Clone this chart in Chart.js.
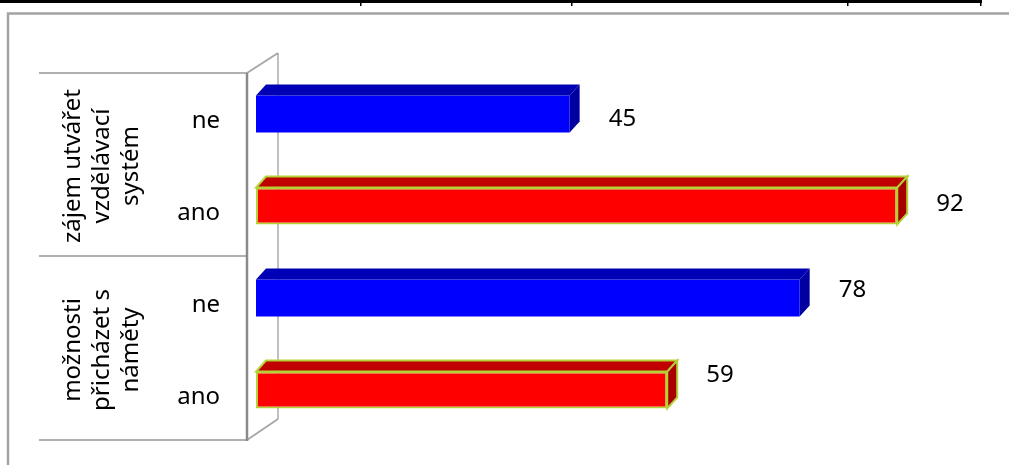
<!DOCTYPE html>
<html>
<head>
<meta charset="utf-8">
<script src="https://cdn.jsdelivr.net/npm/chart.js@4.4.1/dist/chart.umd.min.js"></script>
<style>
  html, body { margin: 0; padding: 0; background: #fff; overflow: hidden; }
  canvas { display: block; }
</style>
</head>
<body>
<canvas id="survey" width="1009" height="465"></canvas>
<script>
// odpovědi po skupinách (shora dolů)
const groupLabels = [
    ['zájem utvářet', 'vzdělávací', 'systém'],
    ['možnosti', 'přicházet s', 'náměty']
];
const answerLabels = ['ne', 'ano', 'ne', 'ano'];
const answerValues = [45, 92, 78, 59];

const FONT = '24px "Noto Sans", sans-serif';
const DX = 10, DY = -11;   // hloubka 3D kvádru

function faceColors(label) {
    return label === 'ano'
        ? { front: '#ff0000', top: '#c00000', side: '#a80000', edge: '#b4d236' }
        : { front: '#0000ff', top: '#0000b4', side: '#0000a0', edge: null };
}

// stěny, osa a dělicí čáry kategorií
const framePlugin = {
    id: 'frame',
    beforeDatasetsDraw(chart) {
        const ctx = chart.ctx;
        const a = chart.chartArea;
        const fx = a.left - 9;          // přední osa
        const bx = a.left + 22;         // zadní stěna
        const yTop = a.top + 5, yBot = a.bottom + 4, yMid = (a.top + a.bottom) / 2 + 4;
        ctx.save();

        // čára tabulky nad grafem
        ctx.fillStyle = '#000';
        ctx.fillRect(0, 0, 982, 3);
        [360, 571, 847, 980].forEach(x => ctx.fillRect(x, 0, 1.5, 6));

        // rámeček grafu
        ctx.strokeStyle = '#a4a4a4';
        ctx.lineWidth = 2.5;
        ctx.beginPath();
        ctx.moveTo(8, 470);
        ctx.lineTo(8, 13.5);
        ctx.lineTo(1015, 13.5);
        ctx.stroke();

        // zadní stěna
        ctx.strokeStyle = '#c0c0c0';
        ctx.lineWidth = 2;
        ctx.beginPath();
        ctx.moveTo(bx, yTop - 20);
        ctx.lineTo(bx, yBot - 21);
        ctx.stroke();
        ctx.strokeStyle = '#a8a8a8';
        ctx.beginPath();
        ctx.moveTo(fx, yTop);
        ctx.lineTo(bx, yTop - 20);
        ctx.moveTo(fx, yBot);
        ctx.lineTo(bx, yBot - 21);
        ctx.stroke();

        // dělicí čáry kategorií
        ctx.strokeStyle = '#969696';
        ctx.lineWidth = 1.5;
        ctx.beginPath();
        [yTop, yMid, yBot].forEach(y => {
            ctx.moveTo(39, y);
            ctx.lineTo(fx, y);
        });
        ctx.stroke();

        // přední osa
        ctx.strokeStyle = '#8a8a8a';
        ctx.lineWidth = 2.5;
        ctx.beginPath();
        ctx.moveTo(fx, yTop);
        ctx.lineTo(fx, yBot + 1);
        ctx.stroke();
        ctx.restore();
    }
};

// horní a boční stěna sloupců, popisky
const boxPlugin = {
    id: 'box3d',
    afterDatasetsDraw(chart) {
        const ctx = chart.ctx;
        const a = chart.chartArea;
        const meta = chart.getDatasetMeta(0);
        ctx.save();
        meta.data.forEach((bar, i) => {
            const c = faceColors(answerLabels[i]);
            const top = bar.y - bar.height / 2, bottom = bar.y + bar.height / 2;
            const x0 = bar.base, x1 = bar.x;

            ctx.lineJoin = 'miter';
            ctx.fillStyle = c.top;
            ctx.beginPath();
            ctx.moveTo(x0, top);
            ctx.lineTo(x0 + DX, top + DY);
            ctx.lineTo(x1 + DX, top + DY);
            ctx.lineTo(x1, top);
            ctx.closePath();
            ctx.fill();
            if (c.edge) { ctx.strokeStyle = c.edge; ctx.lineWidth = 2; ctx.stroke(); }

            ctx.fillStyle = c.side;
            ctx.beginPath();
            ctx.moveTo(x1, top);
            ctx.lineTo(x1 + DX, top + DY);
            ctx.lineTo(x1 + DX, bottom + DY);
            ctx.lineTo(x1, bottom);
            ctx.closePath();
            ctx.fill();
            if (c.edge) { ctx.stroke(); }

            // hodnota (popisky leží v perspektivě trochu blíž k sobě)
            ctx.fillStyle = '#000';
            ctx.font = FONT;
            ctx.textAlign = 'left';
            ctx.textBaseline = 'middle';
            const ly = a.top + 8 + (bar.y - a.top) * 0.93;
            ctx.fillText(String(answerValues[i]), x1 + 39, ly);
        });

        // popisky osy: odpověď
        const yScale = chart.scales.y;
        ctx.fillStyle = '#000';
        ctx.font = FONT;
        ctx.textAlign = 'right';
        ctx.textBaseline = 'middle';
        answerLabels.forEach((lab, i) => {
            ctx.fillText(lab, 220, yScale.getPixelForValue(i) + 7);
        });

        // popisky osy: skupina (svisle)
        ctx.textAlign = 'center';
        ctx.textBaseline = 'alphabetic';
        groupLabels.forEach((lines, g) => {
            const cy = (yScale.getPixelForValue(g * 2) + yScale.getPixelForValue(g * 2 + 1)) / 2 + 6;
            ctx.save();
            ctx.translate(80, cy);
            ctx.rotate(-Math.PI / 2);
            lines.forEach((line, k) => ctx.fillText(line, 0, k * 29));
            ctx.restore();
        });
        ctx.restore();
    }
};

new Chart(document.getElementById('survey'), {
    type: 'bar',
    data: {
        labels: answerLabels,
        datasets: [{
            data: answerValues,
            backgroundColor: answerLabels.map(l => faceColors(l).front),
            borderColor: answerLabels.map(l => faceColors(l).edge || faceColors(l).front),
            borderWidth: answerLabels.map(l => faceColors(l).edge ? 2 : 0),
            borderSkipped: false,
            categoryPercentage: 1,
            barPercentage: 0.4
        }]
    },
    options: {
        indexAxis: 'y',
        responsive: false,
        animation: false,
        layout: { padding: { left: 256, right: 56, top: 68, bottom: 29 } },
        plugins: { legend: { display: false }, tooltip: { enabled: false } },
        scales: {
            x: { display: false, min: 0, max: 100 },
            y: { display: false }
        }
    },
    plugins: [framePlugin, boxPlugin]
});
</script>
</body>
</html>
